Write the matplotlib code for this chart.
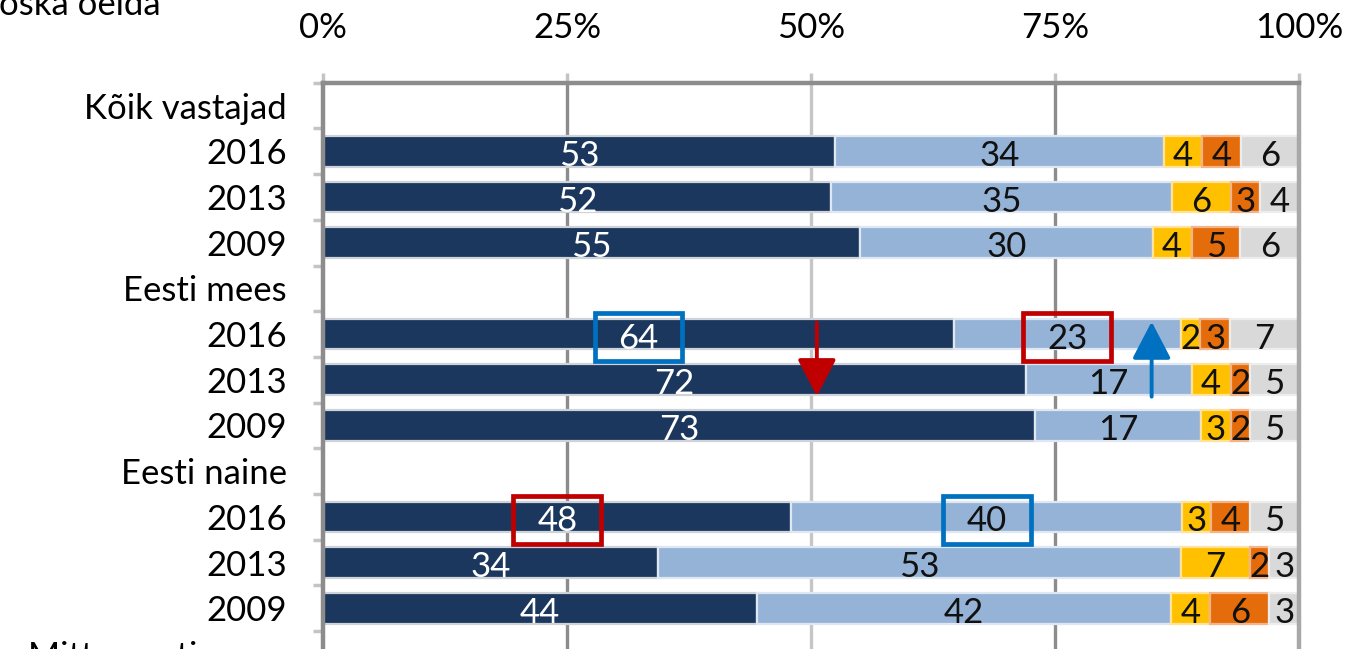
import matplotlib
matplotlib.use("Agg")
import matplotlib.pyplot as plt
from matplotlib.patches import Rectangle
import numpy as np

# ---------------- data ----------------
groups = ["Kõik vastajad", "Eesti mees", "Eesti naine", "Mitte-eesti mees"]
years = ["2016", "2013", "2009"]

# values per data row (group x year), in order of appearance
dark_vals   = [53, 52, 55, 64, 72, 73, 48, 34, 44]
light_vals  = [34, 35, 30, 23, 17, 17, 40, 53, 42]
yellow_vals = [4, 6, 4, 2, 4, 3, 3, 7, 4]
orange_vals = [4, 3, 5, 3, 2, 2, 4, 2, 6]
gray_vals   = [6, 4, 6, 7, 5, 5, 5, 3, 3]

xtick_vals = [0, 25, 50, 75, 100]
xtick_labels = ["0%", "25%", "50%", "75%", "100%"]
header_text = "oska öelda"

# ---------------- style ----------------
FONT = "Lato"
FS = 25
colors = ["#1b375e", "#95b3d7", "#ffc000", "#e46c0a", "#d9d9d9"]
edge_colors = ["#cfd3d9", "#dfe8f2", "#ffe39a", "#f3b48a", "#ededed"]
label_colors = ["white", "#111111", "#111111", "#111111", "#111111"]

plt.rcParams["font.family"] = [FONT, "DejaVu Sans"]

# build category list: group header followed by its years
categories = []
bar_rows = []
for g in groups:
    categories.append(g)
    if len(bar_rows) < len(dark_vals):
        for y in years:
            bar_rows.append(len(categories))
            categories.append(y)
n_rows = len(categories)

series = np.array([dark_vals, light_vals, yellow_vals, orange_vals, gray_vals], dtype=float)
totals = series.sum(axis=0)
shares = series / totals * 100.0  # 100% stacked

# ---------------- figure ----------------
W, H = 1347, 649
fig = plt.figure(figsize=(W / 100, H / 100), dpi=100)
row_px = 45.7
top_px = 82.7
ax_h_px = n_rows * row_px
ax = fig.add_axes([323 / W, 1 - (top_px + ax_h_px) / H, 976 / W, ax_h_px / H])

ax.set_xlim(0, 100)
ax.set_ylim(n_rows - 0.5, -0.5)

# grid lines (behind bars)
grid_cols = {25: "#8c8c8c", 50: "#c6c6c6", 75: "#8c8c8c"}
for xv, c in grid_cols.items():
    ax.axvline(xv, color=c, lw=2.4, zorder=0)

bar_h = 0.67
for r_i, row in enumerate(bar_rows):
    left = 0.0
    for s_i in range(series.shape[0]):
        w = shares[s_i, r_i]
        ax.barh(row, w, left=left, height=bar_h, color=colors[s_i],
                edgecolor=edge_colors[s_i], linewidth=1.6, zorder=2)
        ax.text(left + w / 2, row + 0.1, f"{int(series[s_i, r_i])}",
                ha="center", va="center", fontsize=FS, color=label_colors[s_i],
                zorder=4)
        left += w

# annotations: boxes around selected labels (row index in data, series index, colour)
box_specs = [(3, 0, "#0070c0"), (3, 1, "#c00000"), (6, 0, "#c00000"), (6, 1, "#0070c0")]
for r_i, s_i, c in box_specs:
    cx = shares[:s_i, r_i].sum() + shares[s_i, r_i] / 2
    row = bar_rows[r_i]
    ax.add_patch(Rectangle((cx - 4.5, row - 0.46), 9.0, 1.06, fill=False,
                           edgecolor=c, linewidth=3.4, zorder=5))

# arrows: (x in %, from row, to row, colour)
arrow_specs = [(50.6, bar_rows[3] - 0.25, bar_rows[4] + 0.36, "#c00000"),
               (84.9, bar_rows[4] + 0.37, bar_rows[3] - 0.27, "#0070c0")]
for xv, y0, y1, c in arrow_specs:
    ax.annotate("", xy=(xv, y1), xytext=(xv, y0),
                arrowprops=dict(arrowstyle="-|>,head_length=1.15,head_width=0.6",
                                mutation_scale=20, color=c, lw=2.8,
                                shrinkA=0, shrinkB=0), zorder=6)

# spines
ax.spines["bottom"].set_visible(False)
ax.spines["left"].set_color("#8c8c8c")
ax.spines["left"].set_linewidth(3.2)
ax.spines["top"].set_color("#8c8c8c")
ax.spines["top"].set_linewidth(3.2)
ax.spines["right"].set_color("#a8a8a8")
ax.spines["right"].set_linewidth(3.2)
for sp in ax.spines.values():
    sp.set_zorder(3)

# x axis on top
ax.xaxis.tick_top()
ax.set_xticks(xtick_vals)
ax.set_xticklabels(xtick_labels, fontsize=FS)
ax.tick_params(axis="x", which="major", length=7.2, width=2.5, color="#c4c4c4",
               pad=21, labelcolor="#000000")

# y axis: labels at rows, ticks at boundaries
ax.set_yticks(np.arange(n_rows))
ax.set_yticklabels(categories, fontsize=FS)
ax.set_yticks(np.arange(n_rows + 1) - 0.5, minor=True)
ax.tick_params(axis="y", which="major", length=0, pad=26, labelcolor="#000000")
ax.tick_params(axis="y", which="minor", length=7.2, width=2.5, color="#c4c4c4")

fig.text(-1 / W, 1 - 15 / H, header_text, ha="left", va="baseline",
         fontsize=FS, color="#000000")

fig.savefig("out.png", dpi=100)
